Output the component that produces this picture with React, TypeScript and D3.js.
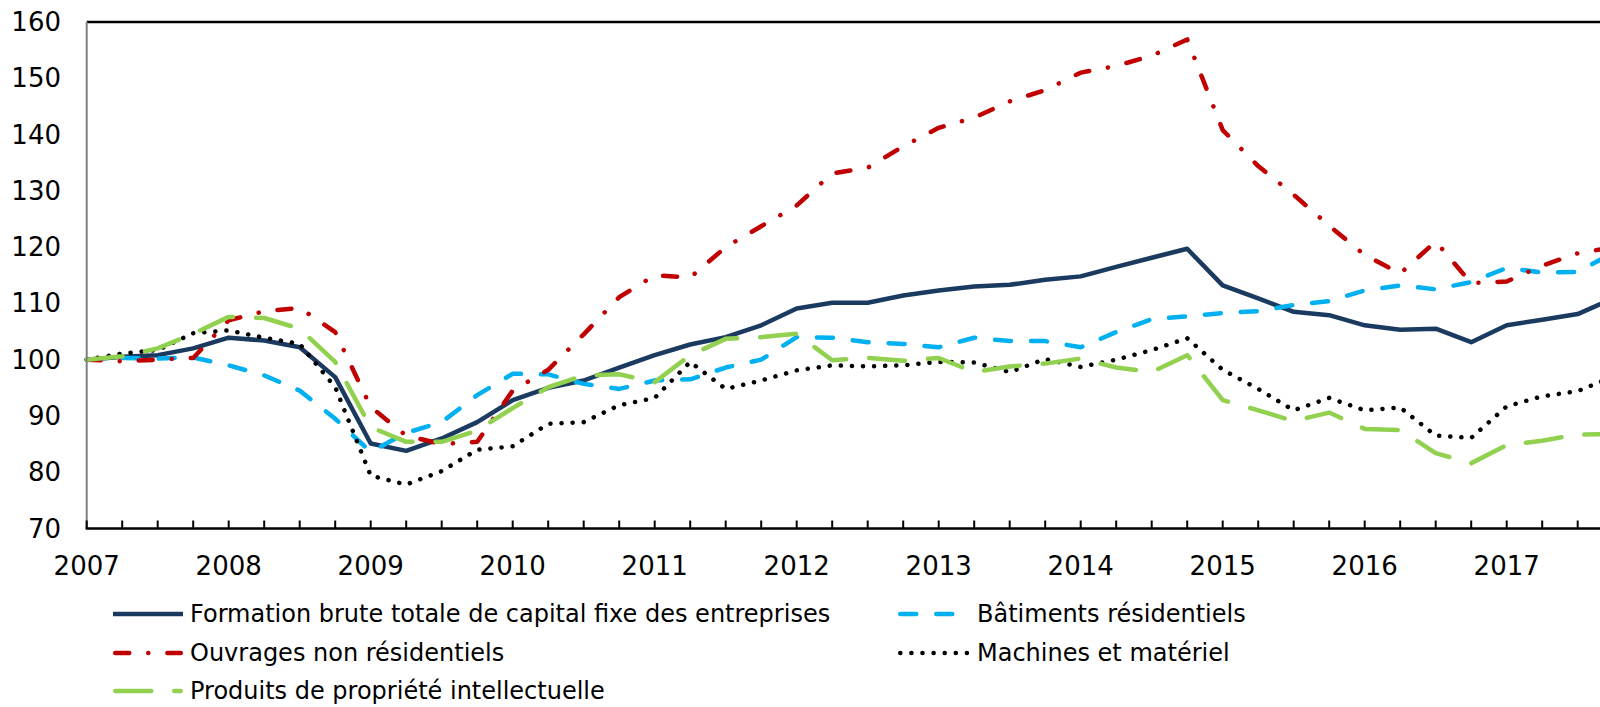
import React from 'react';
import * as d3 from 'd3';

// Quarterly categories 2007T1 .. 2017T4
const years = ['2007', '2008', '2009', '2010', '2011', '2012', '2013', '2014', '2015', '2016', '2017'];
const quarters = years.flatMap((yr) => ['T1', 'T2', 'T3', 'T4'].map((q) => `${yr}${q}`));

const yTicks = [70, 80, 90, 100, 110, 120, 130, 140, 150, 160];

const formation = [100, 100.5, 100.8, 102.0, 103.9, 103.4, 102.2, 96.9, 85.1, 83.8,
  86.0, 88.9, 92.8, 95.0, 96.3, 98.6, 100.8, 102.7, 104.0, 106.1,
  109.1, 110.1, 110.1, 111.4, 112.3, 113.0, 113.3, 114.2, 114.8, 116.5,
  118.1, 119.7, 113.2, 110.9, 108.5, 107.9, 106.1, 105.3, 105.5, 103.1,
  106.1, 107.1, 108.1, 110.9];

const batiments = [100, 100.3, 100.2, 100.4, 99.0, 97.2, 94.5, 89.5, 83.6, 87.0,
  88.9, 93.7, 97.5, 97.4, 95.7, 94.8, 96.3, 96.5, 98.6, 100.0,
  104.0, 103.9, 103.1, 102.8, 102.2, 103.9, 103.3, 103.3, 102.2, 104.9,
  107.2, 107.7, 108.3, 108.6, 109.7, 110.4, 112.3, 113.2, 112.5, 113.8,
  116.3, 115.5, 115.6, 119.0];

const ouvrages = [100, 99.7, 100.0, 100.3, 107.0, 108.6, 109.2, 104.9, 91.6, 86.5,
  85.0, 85.4, 94.5, 98.2, 104.5, 111.1, 115.0, 114.6, 120.0, 123.7,
  127.4, 133.1, 134.1, 137.9, 141.2, 143.0, 145.9, 147.9, 151.0, 152.2,
  154.0, 156.9, 140.8, 134.4, 129.3, 123.8, 118.6, 115.3, 121.0, 113.6,
  113.9, 116.7, 118.9, 120.0];

const machines = [100, 101.1, 101.7, 104.7, 105.2, 103.9, 102.8, 95.1, 79.4, 77.8,
  80.2, 84.0, 84.6, 88.6, 88.9, 91.9, 93.2, 99.6, 94.8, 96.3,
  98.1, 99.0, 98.8, 99.0, 99.6, 99.5, 97.8, 100.1, 98.7, 100.0,
  101.7, 103.8, 98.2, 94.8, 91.0, 93.2, 91.0, 91.5, 86.5, 86.1,
  91.7, 93.5, 94.4, 97.0];

const produits = [100, 100.6, 102.0, 104.6, 107.6, 107.4, 105.5, 99.6, 88.0, 85.4,
  85.4, 87.4, 91.4, 95.1, 97.2, 97.4, 96.0, 100.8, 103.7, 104.0,
  104.6, 99.9, 100.3, 99.8, 100.3, 97.8, 98.8, 99.3, 100.2, 98.6,
  97.8, 100.8, 92.8, 91.0, 89.1, 90.6, 87.7, 87.5, 83.4, 81.6,
  84.8, 85.6, 86.7, 86.8];

const seriesNames = [
  'Formation brute totale de capital fixe des entreprises',
  'Bâtiments résidentiels',
  'Ouvrages non résidentiels',
  'Machines et matériel',
  'Produits de propriété intellectuelle',
];

const styles = [
  { color: '#1B3A60', dash: undefined as string | undefined, width: 4.5, cap: 'butt' },
  { color: '#00B0F0', dash: '16 20', width: 4.5, cap: 'round' },
  { color: '#C00000', dash: '14 19 0.1 19', width: 4.5, cap: 'round' },
  { color: '#000000', dash: '0.1 11', width: 4.5, cap: 'round' },
  { color: '#92D050', dash: '36 23', width: 4.5, cap: 'round' },
];

const seriesValues = [formation, batiments, ouvrages, machines, produits];

const W = 1600;
const H = 707;
const FONT = '"DejaVu Sans", Verdana, sans-serif';

export default function App() {
  const x = d3.scaleLinear().domain([0, 42]).range([86.7, 1577.7]);
  const y = d3.scaleLinear().domain([70, 160]).range([528.5, 22]);
  const line = d3.line<number>().x((_, i) => x(i)).y((d) => y(d));

  const legendPos = [
    { x1: 113, x2: 183, tx: 190, ty: 614 },
    { x1: 898, x2: 970, tx: 977, ty: 614 },
    { x1: 113, x2: 183, tx: 190, ty: 653 },
    { x1: 898, x2: 970, tx: 977, ty: 653 },
    { x1: 113, x2: 183, tx: 190, ty: 691 },
  ];

  return (
    <svg width={W} height={H} style={{ position: 'absolute', left: 0, top: 0, background: '#fff' }}
      fontFamily={FONT}>
      <rect x={0} y={0} width={W} height={H} fill="#fff" />
      {seriesValues.map((vals, si) => (
        <path key={si} d={line(vals) || ''} fill="none" stroke={styles[si].color}
          strokeWidth={styles[si].width} strokeDasharray={styles[si].dash}
          strokeLinecap={styles[si].cap as any} strokeLinejoin="round" />
      ))}
      <line x1={x(0)} x2={W} y1={y(160)} y2={y(160)} stroke="#000" strokeWidth={2.5} />
      <line x1={x(0)} x2={x(0)} y1={y(160)} y2={y(70)} stroke="#808080" strokeWidth={2} />
      <line x1={x(0) - 1} x2={W} y1={y(70)} y2={y(70)} stroke="#000" strokeWidth={2.5} />
      {quarters.map((q, i) => (
        <line key={q} x1={x(i)} x2={x(i)} y1={y(70)} y2={y(70) - 8} stroke="#000" strokeWidth={2} />
      ))}
      {yTicks.map((t) => (
        <text key={t} x={61} y={y(t)} textAnchor="end" dominantBaseline="central" fontSize={26} fill="#000">{t}</text>
      ))}
      {years.map((yr, k) => (
        <text key={yr} x={x(k * 4)} y={575} textAnchor="middle" fontSize={26} fill="#000">{yr}</text>
      ))}
      {seriesNames.map((name, si) => {
        const p = legendPos[si];
        const st = styles[si];
        const inset = st.cap === 'round' ? st.width / 2 : 0;
        return (
          <g key={name}>
            <line x1={p.x1 + inset} x2={p.x2 - inset} y1={p.ty} y2={p.ty} stroke={st.color}
              strokeWidth={st.width} strokeDasharray={st.dash} strokeLinecap={st.cap as any} />
            <text x={p.tx} y={p.ty} dominantBaseline="central" fontSize={24} fill="#000">{name}</text>
          </g>
        );
      })}
    </svg>
  );
}
